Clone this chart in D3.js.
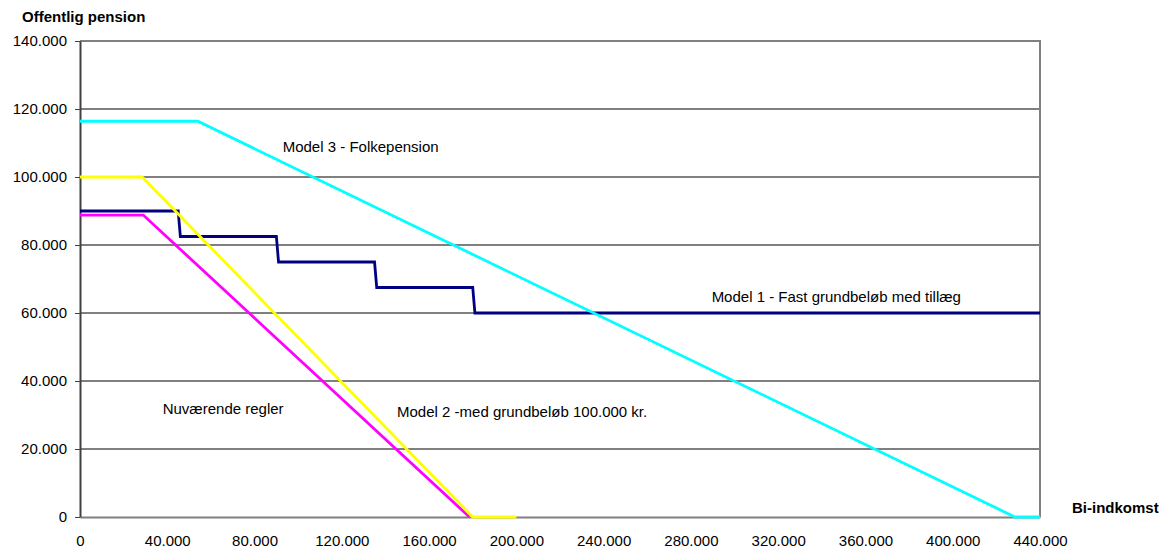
<!DOCTYPE html>
<html>
<head>
<meta charset="utf-8">
<script src="https://cdn.jsdelivr.net/npm/d3@7"></script>
<style>
  body { margin: 0; background: #fff; }
  svg text { font-family: "Liberation Sans", Arial, sans-serif; fill: #000; }
</style>
</head>
<body>
<div id="chart"></div>
<script>
// x ticks (bi-indkomst) and y ticks (offentlig pension)
const xTicks = [0, 40000, 80000, 120000, 160000, 200000, 240000, 280000, 320000, 360000, 400000, 440000];
const yTicks = [0, 20000, 40000, 60000, 80000, 100000, 120000, 140000];

// series: [bi-indkomst, pension]
const model1 = [[0, 90000], [45000, 90000], [46000, 82500], [90000, 82500], [91000, 75000],
                [135000, 75000], [136000, 67500], [180000, 67500], [181000, 60000], [440000, 60000]];
const nuvaerende = [[0, 88800], [29000, 88800], [178500, 0]];
const model2 = [[0, 100000], [28500, 100000], [180000, 0], [200000, 0]];
const model3 = [[0, 116400], [54000, 116400], [428500, 0], [440000, 0]];

const seriesNames = ['Model 1 - Fast grundbeløb med tillæg', 'Nuværende regler',
                     'Model 2 -med grundbeløb 100.000 kr.', 'Model 3 - Folkepension'];
const seriesData = [model1, nuvaerende, model2, model3];
const seriesColors = ['#000080', '#ff00ff', '#ffff00', '#00ffff'];

// label anchors in data units
const labelAnchors = [[289500, 63300], [37900, 30300], [145300, 29500], [92900, 107400]];

const width = 1172, height = 551;
const margin = { top: 41, right: 132, bottom: 34, left: 80 };

const svg = d3.select('#chart').append('svg')
    .attr('width', width)
    .attr('height', height);

const x = d3.scaleLinear()
    .domain([0, 440000])
    .range([margin.left, width - margin.right]);

const y = d3.scaleLinear()
    .domain([0, 140000])
    .range([height - margin.bottom, margin.top]);

const dk = d3.formatLocale({ decimal: ',', thousands: '.', grouping: [3], currency: ['', ''] });
const fmt = dk.format(',d');

// gridlines
svg.append('g')
    .selectAll('line')
    .data(yTicks.filter(d => d > 0 && d < 140000))
    .join('line')
    .attr('x1', x(0))
    .attr('x2', x(440000))
    .attr('y1', d => y(d))
    .attr('y2', d => y(d))
    .attr('stroke', '#000')
    .attr('stroke-width', 1);

// plot border top/right
svg.append('path')
    .attr('d', `M${x(0)},${y(140000)}H${x(440000)}V${y(0)}`)
    .attr('fill', 'none')
    .attr('stroke', '#808080')
    .attr('stroke-width', 2);

// x axis
const xAxis = svg.append('g')
    .attr('transform', `translate(0,${y(0)})`)
    .call(d3.axisBottom(x).tickValues(xTicks).tickFormat(fmt).tickSize(0).tickPadding(18));
xAxis.select('.domain').attr('stroke', '#808080').attr('stroke-width', 2);
xAxis.selectAll('text').style('font-size', '15px');

// y axis
const yAxis = svg.append('g')
    .attr('transform', `translate(${x(0)},0)`)
    .call(d3.axisLeft(y).tickValues(yTicks).tickFormat(fmt).tickSize(5).tickPadding(8).tickSizeOuter(0));
yAxis.select('.domain').attr('stroke', '#404040').attr('stroke-width', 2);
yAxis.selectAll('.tick line').attr('stroke', '#404040');
yAxis.selectAll('text').style('font-size', '15px');

const line = d3.line()
    .x(d => x(d[0]))
    .y(d => y(d[1]));

svg.append('g')
    .selectAll('path')
    .data(seriesData)
    .join('path')
    .attr('fill', 'none')
    .attr('stroke', (d, i) => seriesColors[i])
    .attr('stroke-width', 2.8)
    .attr('stroke-linejoin', 'miter')
    .attr('d', line);

// series labels
svg.append('g')
    .selectAll('text')
    .data(seriesNames)
    .join('text')
    .attr('x', (d, i) => x(labelAnchors[i][0]))
    .attr('y', (d, i) => y(labelAnchors[i][1]))
    .style('font-size', '15px')
    .text(d => d);

// axis titles
svg.append('text')
    .attr('x', 22)
    .attr('y', 21.5)
    .style('font-size', '15px')
    .style('font-weight', 'bold')
    .text('Offentlig pension');

svg.append('text')
    .attr('x', 1072)
    .attr('y', 512.5)
    .style('font-size', '15px')
    .style('font-weight', 'bold')
    .text('Bi-indkomst');
</script>
</body>
</html>
